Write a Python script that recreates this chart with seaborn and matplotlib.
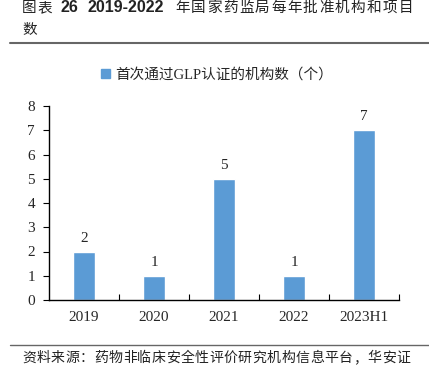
import matplotlib
matplotlib.use("Agg")
import matplotlib.pyplot as plt
import seaborn as sns
import pandas as pd
import numpy as np
from matplotlib.lines import Line2D

categories = ["2019", "2020", "2021", "2022", "2023H1"]
values = [2, 1, 5, 1, 7]
series_name = "首次通过GLP认证的机构数（个）"
title_pre = "图表"
title_num = "26"
title_years = "2019-2022"
title_rest = "年国家药监局每年批准机构和项目"
title_line2 = "数"
source = "资料来源：药物非临床安全性评价研究机构信息平台，华安证"

sns.set_theme(style="white")
plt.rcParams['font.family'] = ['Liberation Serif', 'Noto Sans CJK SC']

df = pd.DataFrame({"year": categories, "n": values, "s": series_name})

W, H = 429, 369
fig = plt.figure(figsize=(W / 100, H / 100), dpi=100)
ax = fig.add_axes([49 / W, 1 - 300 / H, 350 / W, 194 / H])

color = "#5B9BD5"
sns.barplot(data=df, x="year", y="n", hue="s", palette=[color], width=0.31,
            ax=ax, legend=False, saturation=1)

ax.set_ylim(0, 8)
ax.set_xlim(-0.5, len(categories) - 0.5)
ax.set_yticks(range(0, 9))
ax.set_xlabel("")
ax.set_ylabel("")
for sp in ["top", "right"]:
    ax.spines[sp].set_visible(False)
for sp in ["left", "bottom"]:
    ax.spines[sp].set_color("black")
    ax.spines[sp].set_linewidth(1.0)

ax.tick_params(axis="y", direction="out", length=4, width=0.8, color="black",
               labelsize=11, pad=6, left=True)
ax.tick_params(axis="x", which="major", length=0, labelsize=11, pad=8)
ax.set_xticks(np.arange(0.5, len(categories), 1.0), minor=True)
ax.tick_params(axis="x", which="minor", direction="in", length=4, width=0.8,
               color="black", bottom=True)

for container in ax.containers:
    ax.bar_label(container, padding=5, fontsize=11)

handle = [plt.Rectangle((0, 0), 1, 1, color=color)]
fig.legend(handle, [series_name], loc="center", bbox_to_anchor=(217 / W, 1 - 75 / H),
           frameon=False, handlelength=0.6, handleheight=0.6,
           handletextpad=0.4, prop={'family': ['Liberation Serif', 'Noto Sans CJK SC'], 'size': 10.5})


def spaced(text, x0, y, step, size, **kw):
    for i, ch in enumerate(text):
        fig.text((x0 + i * step) / W, 1 - y / H, ch, fontsize=size, va="center",
                 ha="left", family=['Noto Sans CJK SC'], color="#222222", **kw)


spaced(title_pre, 22, 8, 15.0, 10.5)
fig.text(60 / W, 1 - 8 / H, title_num, fontsize=11.5, fontweight="bold", va="center",
         ha="left", family=['Liberation Sans'], color="#222222")
fig.text(88 / W, 1 - 8 / H, title_years, fontsize=11.5, fontweight="bold", va="center",
         ha="left", family=['Liberation Sans'], color="#222222")
spaced(title_rest, 175, 8, 16.0, 10.5)
spaced(title_line2, 22, 30, 16.0, 10.5)

fig.add_artist(Line2D([10 / W, 1.0], [1 - 43 / H, 1 - 43 / H], color="#666666", lw=1.5,
                      transform=fig.transFigure))
fig.add_artist(Line2D([10 / W, 1.0], [1 - 345 / H, 1 - 345 / H], color="#666666", lw=1.0,
                      transform=fig.transFigure))
spaced(source, 22, 358, 14.4, 10)

fig.savefig("out.png", dpi=100)
